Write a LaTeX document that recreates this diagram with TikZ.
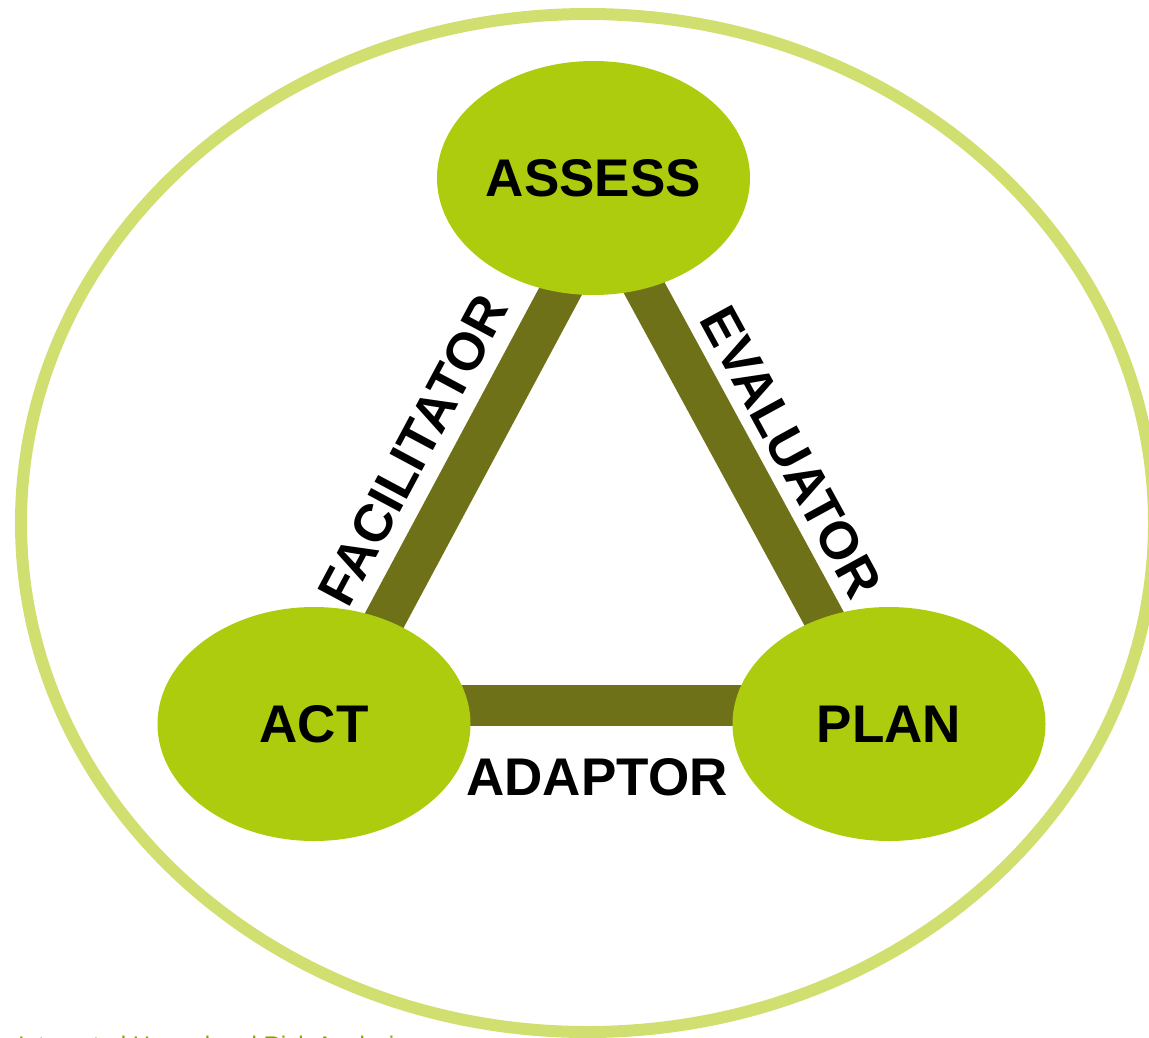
\documentclass[tikz,border=0pt]{standalone}
\usepackage{fontspec}
\setmainfont{Liberation Sans}
\usetikzlibrary{shapes.geometric,calc}
\definecolor{nodegreen}{RGB}{173,204,14}
\definecolor{barolive}{RGB}{111,113,24}
\definecolor{ringgreen}{RGB}{208,223,112}
\definecolor{noteolive}{RGB}{139,153,0}
\pgfdeclarelayer{bg}
\pgfsetlayers{bg,main}
\begin{document}
\begin{tikzpicture}[x=1pt,y=-1pt,
  stage/.style={ellipse, fill=nodegreen, minimum width=313pt, minimum height=234pt, inner sep=0pt,
    font=\bfseries\fontsize{53}{60}\selectfont},
  link/.style={draw=barolive, line width=41pt},
  role/.style={inner sep=0pt, font=\bfseries\fontsize{53}{60}\selectfont}]
\useasboundingbox (0,0) rectangle (1149,1037);
\clip (0,0) rectangle (1149,1037);
\node[draw=ringgreen, line width=12pt, ellipse, minimum width=1133pt, minimum height=1018pt, inner sep=0pt] (ring) at (587.5,523) {};
\node[stage] (assess) at (593.5,178) {ASSESS};
\node[stage] (act) at (314,724) {ACT};
\node[stage] (plan) at (889,724) {PLAN};
\coordinate (apex) at ($(assess.center)+(9.5,34)$);
\coordinate (lcorner) at ($(act.center)+(25,-19)$);
\coordinate (rcorner) at ($(plan.center)+(-18,-19)$);
\begin{pgfonlayer}{bg}
\draw[link] (lcorner) -- (apex);
\draw[link] (apex) -- (rcorner);
\draw[link] (lcorner) -- (rcorner);
\end{pgfonlayer}
\node[role, rotate=61.9] (facilitator) at (413,450) {FACILITATOR};
\node[role, rotate=-61.4] (evaluator) at (791,452) {EVALUATOR};
\node[role] (adaptor) at (597,777) {ADAPTOR};
\node[anchor=base west, inner sep=0pt, text=noteolive, font=\fontsize{24}{28}\selectfont] (note) at (18,1053) {Integrated Hazard and Risk Analysis};
\end{tikzpicture}
\end{document}
